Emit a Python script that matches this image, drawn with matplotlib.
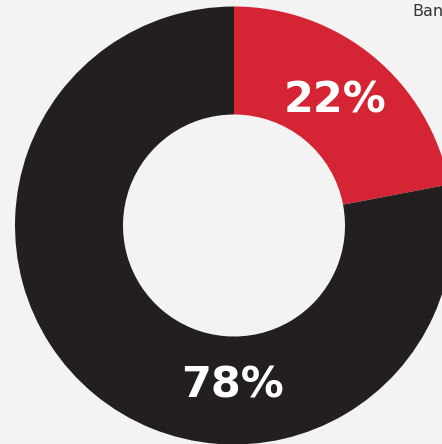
import matplotlib
matplotlib.use('Agg')
import matplotlib.pyplot as plt

# Data
labels = ['22%', '78%']
shares = [22, 78]
colors = ['#d52433', '#231f20']
legend_text = 'Ban'

W, H = 442, 444
fig = plt.figure(figsize=(W / 100, H / 100), dpi=100)
fig.patch.set_facecolor('#f3f3f3')
ax = fig.add_axes([0, 0, 1, 1])
ax.set_facecolor('#f3f3f3')

cx, cy = 234, H - 225.5
r_out, r_in = 219, 111
wedges, _ = ax.pie(shares, colors=colors, startangle=90, counterclock=False,
                   radius=r_out, center=(cx, cy), frame=True,
                   wedgeprops=dict(width=r_out - r_in, linewidth=0))
ax.set_xlim(0, W)
ax.set_ylim(0, H)
ax.set_aspect('equal')
ax.axis('off')

# Percent labels
ax.text(335, H - 100, labels[0], color='white', fontsize=31, fontweight='heavy',
        ha='center', va='center')
ax.text(233, H - 385, labels[1], color='white', fontsize=31, fontweight='heavy',
        ha='center', va='center')

ax.text(412, H - 11.5, legend_text, color='#333333', fontsize=11.5, ha='left', va='center')

plt.savefig('out.png', dpi=100, facecolor=fig.get_facecolor())
plt.close()
